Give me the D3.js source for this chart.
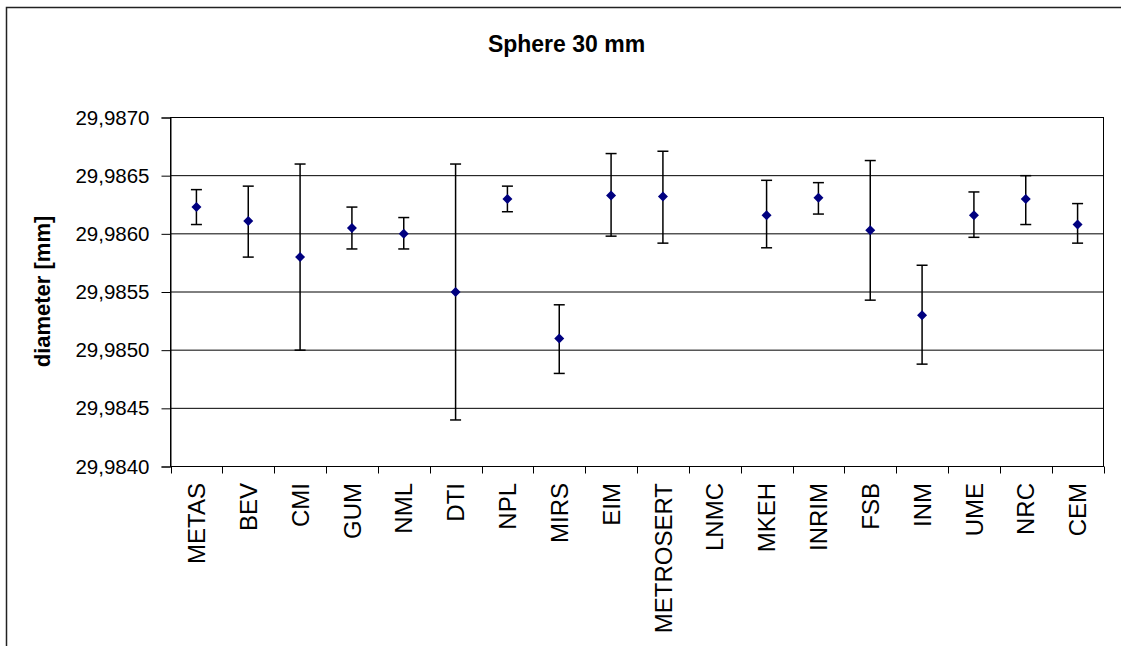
<!DOCTYPE html>
<html>
<head>
<meta charset="utf-8">
<script src="https://cdn.jsdelivr.net/npm/d3@7"></script>
<style>
  body { margin: 0; background: #fff; }
  svg { display: block; font-family: Arial, 'Liberation Sans', sans-serif; }
</style>
</head>
<body>
<svg id="chart" width="1121" height="646"></svg>
<script>
// Laboratories along the x axis
const labs = ['METAS', 'BEV', 'CMI', 'GUM', 'NML', 'DTI', 'NPL', 'MIRS', 'EIM',
  'METROSERT', 'LNMC', 'MKEH', 'INRIM', 'FSB', 'INM', 'UME', 'NRC', 'CEM'];

// Measured diameter (mm), null where no result was reported
const diameter = [29.98623, 29.98611, 29.98580, 29.98605, 29.98600, 29.98550, 29.98630, 29.98510, 29.98633,
  29.98632, null, 29.98616, 29.98631, 29.98603, 29.98530, 29.98616, 29.98630, 29.98608];

// Upper and lower ends of the error bars (mm)
const upper = [29.98638, 29.98641, 29.98660, 29.98623, 29.98614, 29.98660, 29.98641, 29.98539, 29.98669,
  29.98671, null, 29.98646, 29.98644, 29.98663, 29.98573, 29.98636, 29.98650, 29.98626];
const lower = [29.98608, 29.98580, 29.98500, 29.98587, 29.98587, 29.98440, 29.98619, 29.98480, 29.98598,
  29.98592, null, 29.98588, 29.98617, 29.98543, 29.98488, 29.98597, 29.98608, 29.98592];

const yTicks = [29.9840, 29.9845, 29.9850, 29.9855, 29.9860, 29.9865, 29.9870];

const title = 'Sphere 30 mm';
const yTitle = 'diameter [mm]';

const svg = d3.select('#chart');
const plot = { left: 170.5, right: 1103.5, top: 117.5, bottom: 466.5 };

// outer chart frame (runs off the right and bottom of the picture)
svg.append('rect')
  .attr('x', 6.5).attr('y', 7.5)
  .attr('width', 1200).attr('height', 700)
  .attr('fill', 'none')
  .attr('stroke', '#222')
  .attr('stroke-width', 1.5);

const x = d3.scaleBand().domain(labs).range([plot.left, plot.right]).padding(0);
const xEdges = d3.scaleLinear().domain([0, labs.length]).range([plot.left, plot.right]);
const y = d3.scaleLinear().domain([29.9840, 29.9870]).range([plot.bottom, plot.top]);

// horizontal grid lines
svg.append('g')
  .selectAll('line')
  .data(yTicks)
  .join('line')
  .attr('x1', plot.left).attr('x2', plot.right)
  .attr('y1', d => y(d)).attr('y2', d => y(d))
  .attr('stroke', '#000')
  .attr('stroke-width', 1);

// plot area border
svg.append('rect')
  .attr('x', plot.left).attr('y', plot.top)
  .attr('width', plot.right - plot.left).attr('height', plot.bottom - plot.top)
  .attr('fill', 'none')
  .attr('stroke', '#000')
  .attr('stroke-width', 1);

// Y axis
const yAxis = svg.append('g')
  .attr('transform', `translate(${plot.left},0)`)
  .call(d3.axisLeft(y).tickValues(yTicks).tickSize(9).tickPadding(12)
    .tickFormat(d => d3.format('.4f')(d).replace('.', ',')));
yAxis.select('.domain').attr('stroke', '#000');
yAxis.selectAll('.tick line').attr('stroke', '#000');
yAxis.selectAll('.tick text')
  .attr('fill', '#000')
  .style('font-size', '20.5px')
  .style('font-family', "Arial, 'Liberation Sans', sans-serif");

// X axis: tick marks between categories
svg.append('g')
  .selectAll('line')
  .data(d3.range(labs.length + 1))
  .join('line')
  .attr('x1', d => Math.round(xEdges(d)) + 0.5)
  .attr('x2', d => Math.round(xEdges(d)) + 0.5)
  .attr('y1', plot.bottom).attr('y2', plot.bottom + 7)
  .attr('stroke', '#000');

// X axis labels, rotated
const xAxis = svg.append('g')
  .attr('transform', `translate(0,${plot.bottom})`)
  .call(d3.axisBottom(x).tickSize(0));
xAxis.select('.domain').remove();
xAxis.selectAll('.tick text')
  .attr('transform', 'rotate(-90)')
  .attr('x', -16.5)
  .attr('y', 0)
  .attr('dy', '0.36em')
  .attr('text-anchor', 'end')
  .attr('fill', '#000')
  .style('font-size', '24px')
  .style('font-family', "Arial, 'Liberation Sans', sans-serif");

// error bars
const rows = labs.map((lab, i) => ({ lab, v: diameter[i], hi: upper[i], lo: lower[i] }))
  .filter(d => d.v !== null);
const cx = d => x(d.lab) + x.bandwidth() / 2;

const bars = svg.append('g')
  .attr('stroke', '#000')
  .attr('stroke-width', 1.5);
bars.selectAll('.stem')
  .data(rows)
  .join('line')
  .attr('class', 'stem')
  .attr('x1', cx).attr('x2', cx)
  .attr('y1', d => y(d.hi)).attr('y2', d => y(d.lo));
bars.selectAll('.cap-hi')
  .data(rows)
  .join('line')
  .attr('class', 'cap-hi')
  .attr('x1', d => cx(d) - 5.5).attr('x2', d => cx(d) + 5.5)
  .attr('y1', d => y(d.hi)).attr('y2', d => y(d.hi));
bars.selectAll('.cap-lo')
  .data(rows)
  .join('line')
  .attr('class', 'cap-lo')
  .attr('x1', d => cx(d) - 5.5).attr('x2', d => cx(d) + 5.5)
  .attr('y1', d => y(d.lo)).attr('y2', d => y(d.lo));

// diamond markers
svg.append('g')
  .selectAll('path')
  .data(rows)
  .join('path')
  .attr('transform', d => `translate(${cx(d)},${y(d.v)})`)
  .attr('d', 'M0,-5L5,0L0,5L-5,0Z')
  .attr('fill', '#000080');

// chart title
svg.append('text')
  .attr('x', 566.5)
  .attr('y', 51.5)
  .attr('text-anchor', 'middle')
  .style('font-size', '23px')
  .style('font-weight', 'bold')
  .text(title);

// y axis title
svg.append('text')
  .attr('transform', 'translate(50,291.5) rotate(-90)')
  .attr('text-anchor', 'middle')
  .style('font-size', '22px')
  .style('font-weight', 'bold')
  .text(yTitle);
</script>
</body>
</html>
